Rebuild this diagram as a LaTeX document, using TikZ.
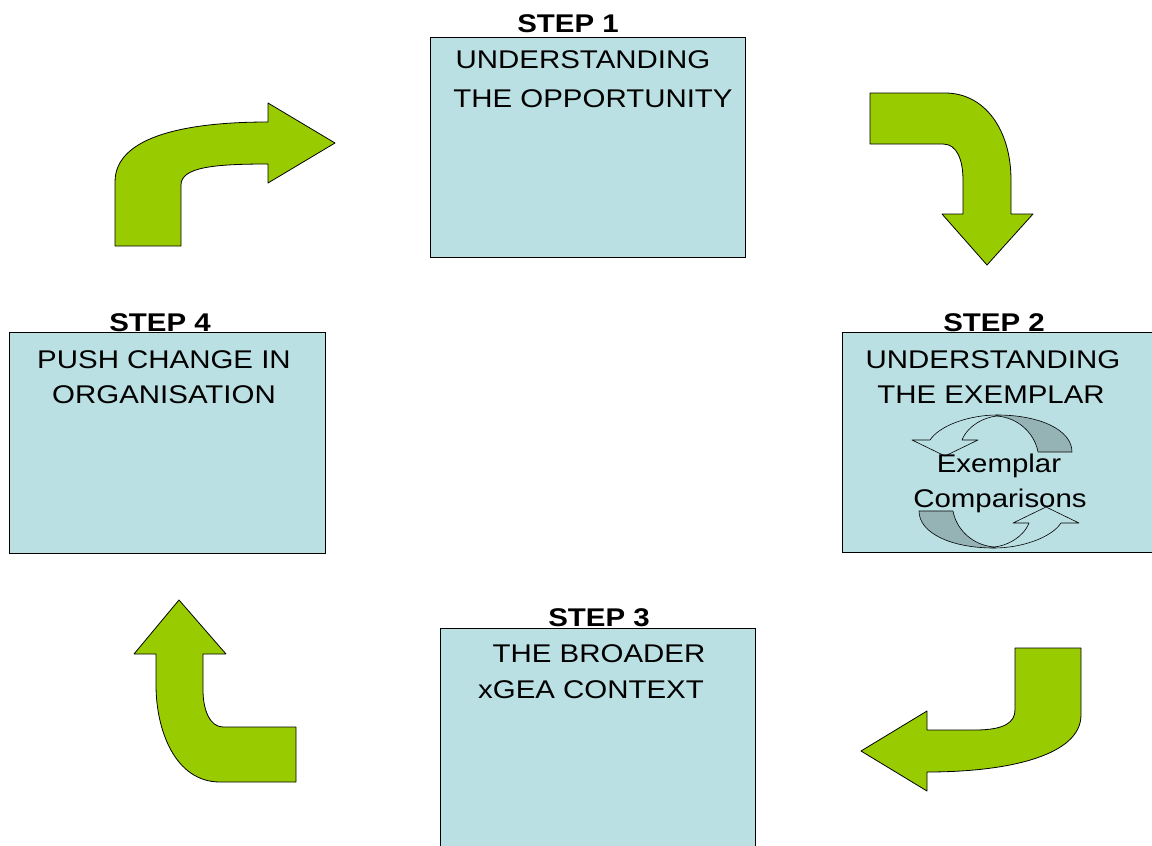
\documentclass[tikz,border=0pt]{standalone}
\usepackage{fontspec}
\setmainfont[FakeStretch=1.15]{Liberation Sans}
\definecolor{boxblue}{RGB}{187,224,227}
\definecolor{arrgreen}{RGB}{153,204,0}
\definecolor{bandgray}{RGB}{149,178,181}
\begin{document}
\begin{tikzpicture}[x=1pt,y=-1pt,
  stepbox/.style={draw=black, fill=boxblue, line width=0.8pt, anchor=north west, inner sep=0pt},
  txt/.style={anchor=base, inner sep=0pt, font=\fontsize{25.6}{30}\selectfont},
  steplbl/.style={anchor=base, inner sep=0pt, font=\fontsize{25.6}{30}\selectfont\bfseries},
  garrow/.style={draw=black, fill=arrgreen, line width=0.8pt, line join=round},
  cband/.style={draw=black, line width=0.6pt, fill=boxblue, line join=round},
  cback/.style={draw=black, line width=0.6pt, fill=bandgray, line join=round}]
\useasboundingbox (0,0) rectangle (1152,846);

% boxes
\node[stepbox, minimum width=315pt, minimum height=220pt] (b1) at (430,37) {};
\node[stepbox, minimum width=313pt, minimum height=220pt] (b2) at (842,332) {};
\node[stepbox, minimum width=315pt, minimum height=230pt] (b3) at (440,628) {};
\node[stepbox, minimum width=316pt, minimum height=221pt] (b4) at (9,332) {};

% step labels
\node[steplbl] (s1) at (568,32) {STEP 1};
\node[steplbl] (s2) at (994,331) {STEP 2};
\node[steplbl] (s3) at (599,626) {STEP 3};
\node[steplbl] (s4) at (160,331) {STEP 4};

% box texts
\node[txt] (t1a) at (583,68) {UNDERSTANDING};
\node[txt] (t1b) at (593,107) {THE OPPORTUNITY};
\node[txt] (t2a) at (993,368) {UNDERSTANDING};
\node[txt] (t2b) at (991,403) {THE EXEMPLAR};
\node[txt] (t3a) at (599,662) {THE BROADER};
\node[txt] (t3b) at (591,698) {xGEA CONTEXT};
\node[txt] (t4a) at (164,368) {PUSH CHANGE IN};
\node[txt] (t4b) at (164,403) {ORGANISATION};

% green bent arrows
\draw[garrow] (115,246) -- (115,182) .. controls (115,135) and (190,122) .. (268,122)
  -- (268,103) -- (335,143) -- (268,183) -- (268,164)
  .. controls (215,164) and (181,167) .. (181,185) -- (181,246) -- cycle;
\draw[garrow] (870,93) -- (945,93) .. controls (985,93) and (1011,130) .. (1011,180)
  -- (1011,214) -- (1033,214) -- (987,265) -- (942,214) -- (963,214) -- (963,180)
  .. controls (963,160) and (957,144) .. (943,144) -- (870,144) -- cycle;
\draw[garrow] (1015,648) -- (1081,648) -- (1081,715) .. controls (1081,755) and (1010,772) .. (927,772)
  -- (927,791) -- (861,751) -- (927,711) -- (927,730) -- (975,730)
  .. controls (1005,730) and (1015,722) .. (1015,710) -- cycle;
\draw[garrow] (296,727) -- (296,782) -- (220,782) .. controls (175,782) and (156,730) .. (156,685)
  -- (156,654) -- (134,654) -- (179,600) -- (226,654) -- (203,654) -- (203,690)
  .. controls (203,710) and (210,727) .. (223,727) -- cycle;

% exemplar comparison circular arrows
\foreach \ang in {0,180}{
  \begin{scope}[rotate around={\ang:(995.5,481.5)}]
    \draw[cback] (997,415) .. controls (1040,415) and (1072,430) .. (1072,452) -- (1038,452)
      .. controls (1035,435) and (1020,418) .. (997,416) -- cycle;
    \draw[cband] (997,415) .. controls (970,415) and (940,425) .. (930,440) -- (912,440)
      -- (945,456) -- (978,440) -- (962,440) .. controls (968,425) and (985,417) .. (997,416) -- cycle;
  \end{scope}
}
\node[txt] (e1) at (999,472) {Exemplar};
\node[txt] (e2) at (1000,507) {Comparisons};
\end{tikzpicture}
\end{document}
